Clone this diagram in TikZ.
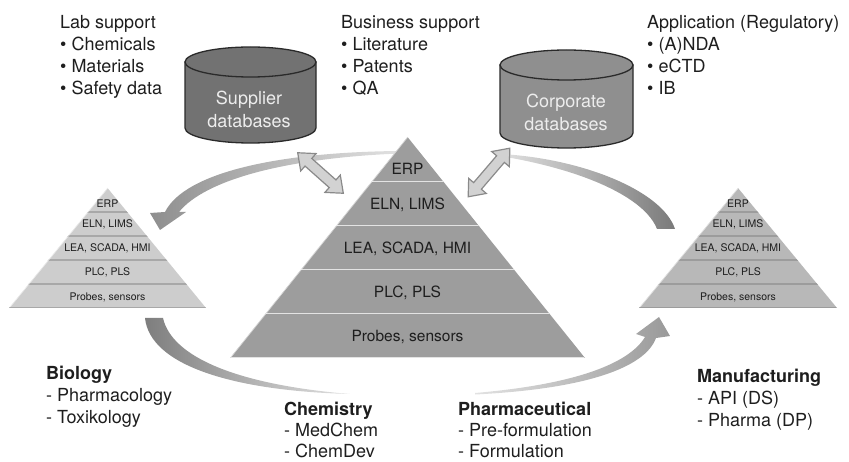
\documentclass[tikz,border=0pt]{standalone}
\usepackage{fontspec}
\setmainfont{TeX Gyre Heros}
\usetikzlibrary{shapes.arrows}
\definecolor{txt}{HTML}{1E1E1E}
\definecolor{pyrC}{HTML}{9D9D9D}
\definecolor{pyrL}{HTML}{CDCDCD}
\definecolor{pyrR}{HTML}{B8B8B8}
\definecolor{cylS}{HTML}{727272}
\definecolor{cylC}{HTML}{8F8F8F}
\definecolor{cyledge}{HTML}{2A2A2A}
\definecolor{cyltext}{HTML}{EDEDED}
\definecolor{dblF}{HTML}{D2D2D2}
\definecolor{dblD}{HTML}{8A8A8A}
\definecolor{arrL}{HTML}{E2E2E2}
\definecolor{arrA}{HTML}{8E8E8E}
\definecolor{arrB}{HTML}{7A7A7A}
\definecolor{arrC}{HTML}{7E7E7E}
\definecolor{arrD}{HTML}{999999}
\newcommand{\mkpyr}[6]{% cx, top, bottom, halfwidth, fill, separator colour
  \begin{scope}
    \fill[#5] (#1,#2) -- (#1+#4,#3) -- (#1-#4,#3) -- cycle;
    \clip (#1,#2) -- (#1+#4,#3) -- (#1-#4,#3) -- cycle;
    \foreach \k in {1,...,4}{
      \draw[#6, line width=1.1pt] (#1-#4,{#2+(#3-#2)*\k/5}) -- (#1+#4,{#2+(#3-#2)*\k/5});
    }
    \draw[white, opacity=0.6, line width=1.2pt] (#1,#2) -- (#1-#4,#3);
    \draw[#6, line width=1.6pt] (#1-#4,#3) -- (#1+#4,#3);
  \end{scope}
}
\newcommand{\mkcyl}[6]{% cx, top centre y, bottom centre y, rx, ry, fill
  \filldraw[fill=#6, draw=cyledge, line width=1.3pt]
    (#1-#4,#2) -- (#1-#4,#3) arc[start angle=180, end angle=0, x radius=#4, y radius=#5]
    -- (#1+#4,#2) -- cycle;
  \filldraw[fill=#6, draw=cyledge, line width=1.3pt] (#1,#2) ellipse[x radius=#4, y radius=#5];
}
\begin{document}
\begin{tikzpicture}[x=1pt,y=-1pt,
  blk/.style={anchor=north west, inner sep=0pt, align=left, text=txt,
              font=\fontsize{18}{22}\selectfont},
  blkb/.style={blk, font=\fontsize{18}{21}\selectfont},
  ptxtC/.style={anchor=base, inner sep=0pt, text=txt, font=\fontsize{15.5}{18}\selectfont},
  ptxtS/.style={anchor=base, inner sep=0pt, text=txt, font=\fontsize{10.5}{12}\selectfont},
  cyltxt/.style={align=center, inner sep=0pt, text=cyltext, font=\fontsize{18}{23}\selectfont},
  dbl/.style={double arrow, draw=dblD, fill=dblF, line width=1.2pt,
              inner xsep=0pt, inner ysep=4.5pt,
              double arrow head extend=6.5pt, double arrow tip angle=78}]
\useasboundingbox (0,0) rectangle (849,462);

% ring arrows
\shade[left color=arrA, right color=arrL]
  (400,151) .. controls (280,152) and (185,172) .. (165,212) -- (150,213) -- (160,230)
  -- (186,212) -- (179,212) .. controls (205,180) and (285,158) .. (400,153.5) -- cycle;
\shade[left color=arrL, right color=arrB]
  (500,154) .. controls (580,158) and (662,190) .. (675,229) -- (657,229)
  .. controls (645,198) and (585,170) .. (500,156) -- cycle;
\shade[left color=arrC, right color=arrL]
  (145,318) -- (163,318) .. controls (172,358) and (240,385) .. (350,394)
  .. controls (235,391) and (150,366) .. (145,318) -- cycle;
\shade[left color=arrL, right color=arrD]
  (475,394.5) .. controls (585,389) and (645,368) .. (656,338) -- (670,336) -- (659,317)
  -- (636,334) -- (645,337) .. controls (630,362) and (580,384) .. (475,393) -- cycle;

% cylinders
\mkcyl{250.5}{62}{128}{65.5}{15}{cylS}
\mkcyl{566.5}{65}{133}{66.5}{15}{cylC}
\node[cyltxt] (supp) at (249,109) {Supplier\\databases};
\node[cyltxt] (corp) at (566,112) {Corporate\\databases};

% pyramids
\mkpyr{407.5}{137}{358}{177.5}{pyrC}{white!72!pyrC}
\mkpyr{107.5}{188}{308}{98.5}{pyrL}{black!18!pyrL}
\mkpyr{738}{188}{308}{99}{pyrR}{black!15!pyrR}

\node[ptxtC] (cERP) at (407.5,175) {ERP};
\node[ptxtC] (cELN) at (407.5,209.5) {ELN, LIMS};
\node[ptxtC] (cLEA) at (407.5,254) {LEA, SCADA, HMI};
\node[ptxtC] (cPLC) at (407.5,298) {PLC, PLS};
\node[ptxtC] (cPRB) at (407.5,342) {Probes, sensors};

\node[ptxtS] (lERP) at (107.5,208) {ERP};
\node[ptxtS] (lELN) at (107.5,228) {ELN, LIMS};
\node[ptxtS] (lLEA) at (107.5,252) {LEA, SCADA, HMI};
\node[ptxtS] (lPLC) at (107.5,276) {PLC, PLS};
\node[ptxtS] (lPRB) at (107.5,300.5) {Probes, sensors};

\node[ptxtS] (rERP) at (738,208) {ERP};
\node[ptxtS] (rELN) at (738,228) {ELN, LIMS};
\node[ptxtS] (rLEA) at (738,252) {LEA, SCADA, HMI};
\node[ptxtS] (rPLC) at (738,276) {PLC, PLS};
\node[ptxtS] (rPRB) at (738,300.5) {Probes, sensors};

% double arrows between databases and central pyramid
\node[dbl, minimum height=61pt, rotate=-41.6] (dblL) at (320.5,173) {};
\node[dbl, minimum height=64pt, rotate=49.4] (dblR) at (489,172.5) {};

% text blocks
\node[blk] (lab) at (60,15) {Lab support\\• Chemicals\\• Materials\\• Safety data};
\node[blk] (bus) at (341,15) {Business support\\• Literature\\• Patents\\• QA};
\node[blk] (app) at (647,15) {Application (Regulatory)\\• (A)NDA\\• eCTD\\• IB};

\node[blk] (bio) at (46,366) {\textbf{Biology}\\- Pharmacology\\- Toxikology};
\node[blkb] (chem) at (284,402) {\textbf{Chemistry}\\- MedChem\\- ChemDev};
\node[blkb] (pharm) at (458,402) {\textbf{Pharmaceutical}\\- Pre-formulation\\- Formulation};
\node[blk] (manu) at (697,369) {\textbf{Manufacturing}\\- API (DS)\\- Pharma (DP)};
\end{tikzpicture}
\end{document}
